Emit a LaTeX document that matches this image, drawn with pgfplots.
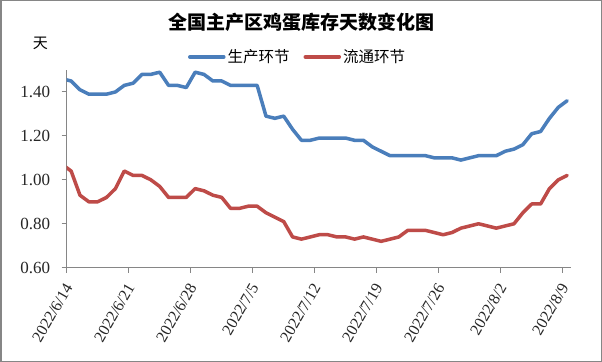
\documentclass[border=0pt]{standalone}
\usepackage{fontspec}
\setmainfont{Liberation Serif}
\newfontfamily\cjk{Noto Sans CJK SC}
\usepackage{pgfplots}
\pgfplotsset{compat=1.18}
\usepackage{pgfplotstable}
\definecolor{prodblue}{HTML}{4A7EBB}
\definecolor{circred}{HTML}{BE4B48}
\definecolor{axgray}{HTML}{868686}

\pgfplotstableread{
x     prod  circ
-0.5  1.46  1.07
0.5   1.45  1.04
1.5   1.41  0.93
2.5   1.39  0.90
3.5   1.39  0.90
4.5   1.39  0.92
5.5   1.40  0.96
6.5   1.43  1.04
7.5   1.44  1.02
8.5   1.48  1.02
9.5   1.48  1.00
10.5  1.49  0.97
11.5  1.43  0.92
12.5  1.43  0.92
13.5  1.42  0.92
14.5  1.49  0.96
15.5  1.48  0.95
16.5  1.45  0.93
17.5  1.45  0.92
18.5  1.43  0.87
19.5  1.43  0.87
20.5  1.43  0.88
21.5  1.43  0.88
22.5  1.29  0.85
23.5  1.28  0.83
24.5  1.29  0.81
25.5  1.23  0.74
26.5  1.18  0.73
27.5  1.18  0.74
28.5  1.19  0.75
29.5  1.19  0.75
30.5  1.19  0.74
31.5  1.19  0.74
32.5  1.18  0.73
33.5  1.18  0.74
34.5  1.15  0.73
35.5  1.13  0.72
36.5  1.11  0.73
37.5  1.11  0.74
38.5  1.11  0.77
39.5  1.11  0.77
40.5  1.11  0.77
41.5  1.10  0.76
42.5  1.10  0.75
43.5  1.10  0.76
44.5  1.09  0.78
45.5  1.10  0.79
46.5  1.11  0.80
47.5  1.11  0.79
48.5  1.11  0.78
49.5  1.13  0.79
50.5  1.14  0.80
51.5  1.16  0.85
52.5  1.21  0.89
53.5  1.22  0.89
54.5  1.28  0.96
55.5  1.33  1.00
56.5  1.36  1.02
}\eggdata

\begin{document}
\begin{tikzpicture}
\useasboundingbox (0,0) rectangle (602bp,362bp);
\fill[white] (0,0) rectangle (602bp,362bp);
\draw[axgray, line width=1.5bp] (0.75bp,0.75bp) rectangle (601.25bp,361.25bp);
\begin{axis}[
  at={(66.7bp,94.3bp)}, anchor=south west,
  width=504bp, height=197.7bp, scale only axis,
  xmin=0, xmax=56.9, ymin=0.6, ymax=1.5,
  axis x line*=bottom, axis y line*=left,
  axis line style={axgray, line width=1bp},
  tick style={axgray, line width=1bp},
  tick align=outside, major tick length=5bp,
  xtick={0,7,14,21,28,35,42,49,56},
  xticklabels={2022/6/14,2022/6/21,2022/6/28,2022/7/5,2022/7/12,2022/7/19,2022/7/26,2022/8/2,2022/8/9},
  xticklabel style={xshift=2bp, yshift=-12bp, rotate=60, anchor=east, inner sep=0pt, font=\fontsize{16bp}{18bp}\selectfont, text=black!85},
  ytick={0.6,0.8,1.0,1.2,1.4},
  yticklabel style={/pgf/number format/fixed, /pgf/number format/fixed zerofill, /pgf/number format/precision=2, font=\fontsize{17bp}{18bp}\selectfont, text=black!85, xshift=-8bp},
  /pgf/number format/assume math mode=true,
  ylabel={\cjk 天},
  ylabel style={rotate=-90, at={(axis description cs:-0.052,1.137)}, anchor=center, font=\fontsize{15bp}{18bp}\selectfont},
  title={\cjk\bfseries 全国主产区鸡蛋库存天数变化图},
  title style={at={(axis description cs:0.465,1.21)}, anchor=center, font=\fontsize{19bp}{22bp}\selectfont},
  legend style={at={(axis description cs:0.458,1.066)}, anchor=center, draw=none, fill=none,
    legend columns=2, font=\cjk\fontsize{15.5bp}{18bp}\selectfont,
    /tikz/every even column/.append style={column sep=12bp}},
  legend image code/.code={\draw[#1, line width=3.5bp] plot coordinates {(0bp,0bp) (17bp,0bp) (34bp,0bp)};},
  every axis plot/.append style={line width=3.5bp, line join=round, line cap=round},
  clip=true,
]
\addplot[prodblue, no marks] table[x=x, y=prod] {\eggdata};
\addlegendentry{生产环节}
\addplot[circred, no marks] table[x=x, y=circ] {\eggdata};
\addlegendentry{流通环节}
\end{axis}
\end{tikzpicture}
\end{document}
